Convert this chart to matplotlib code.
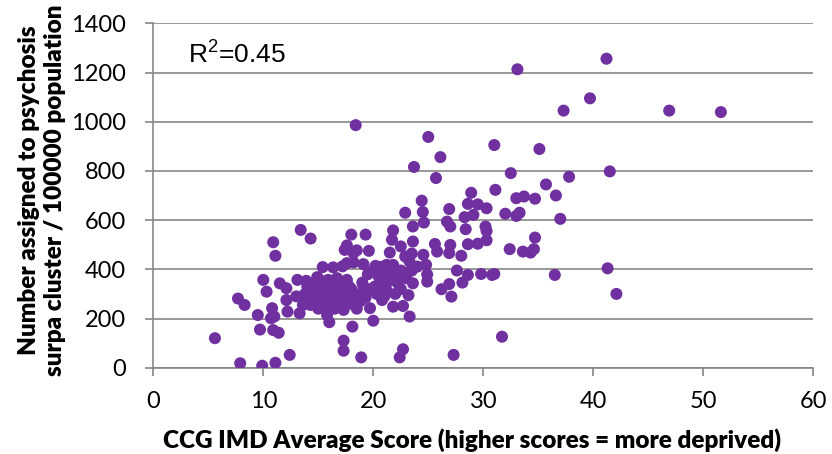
import matplotlib
matplotlib.use("Agg")
import matplotlib.pyplot as plt

# CCG IMD average score vs number in psychosis super cluster per 100000
imd_score = [
    5.6, 7.7, 8.3, 7.9, 9.9, 11.1, 12.4, 9.7, 9.5, 10.0, 10.3, 10.9, 11.1, 10.8, 10.7,
    11.0, 10.9, 11.4, 11.5, 12.1, 12.1, 12.2, 13.4, 14.3, 13.1, 13.9, 13.3, 13.9, 13.6,
    15.4, 14.9, 16.0, 15.8, 17.3, 17.3, 18.1, 18.9, 18.0, 19.3, 19.6, 17.4, 17.6, 18.2,
    18.5, 18.2, 17.6, 19.1, 16.35, 17.2, 19.0, 19.1, 19.7, 20.0, 20.8, 20.2, 20.7, 21.2,
    21.8, 21.8, 21.7, 21.5, 22.5, 22.9, 23.6, 23.6, 22.9, 23.5, 23.3, 24.0, 24.4, 24.5,
    24.6, 24.55, 24.8, 24.9, 24.9, 21.8, 22.7, 23.3, 22.7, 22.4, 27.3, 21.5, 22.4, 23.0,
    19.7, 20.15, 21.2, 23.6, 15.0, 15.9, 16.7, 17.6,
    18.4, 25.0, 26.1, 23.7, 25.7, 28.9, 26.9, 26.7, 27.0, 28.4, 28.3, 29.1, 28.6, 29.5,
    25.6, 25.8, 27.0, 26.9, 28.0, 27.6, 28.6, 28.1, 26.9, 26.2, 27.1, 28.6, 29.5, 30.3,
    30.2, 30.3, 29.8, 30.8, 31.0,
    33.1, 41.2, 37.3, 39.7, 46.9, 51.6, 31.0, 35.1, 32.5, 41.5, 31.1, 37.8, 35.7, 36.6,
    33.0, 33.7, 34.7, 30.3, 32.0, 33.0, 33.3, 37.0, 34.7, 32.4, 33.6, 34.3, 34.6, 36.5,
    41.3, 42.1, 31.7,
    14.0, 14.5, 14.8, 15.0, 15.3, 15.5, 15.8, 16.0, 16.2, 16.5, 16.8, 17.0, 17.2, 17.5,
    17.8, 18.0, 18.3, 18.5, 18.8, 19.0, 14.3, 15.0, 16.5, 17.3, 18.5, 14.7, 16.0, 17.8,
    19.3, 13.8, 15.6, 16.9, 13.0, 14.0,
    19.5, 20.0, 20.5, 21.0, 21.3, 21.8, 22.2, 22.5, 23.0, 23.5, 20.3, 21.0, 22.0, 22.5,
    23.2, 20.7, 22.0,
]
psychosis_rate = [
    120, 281, 255, 18, 8, 20, 52, 155, 214, 357, 309, 510, 455, 242, 201,
    208, 153, 142, 343, 323, 275, 228, 560, 525, 357, 353, 221, 282, 255,
    409, 368, 185, 214, 110, 69, 167, 42, 541, 541, 475, 479, 497, 466,
    477, 428, 425, 421, 408, 412, 346, 330, 242, 191, 275, 414, 410, 418,
    418, 558, 520, 468, 493, 630, 574, 513, 452, 464, 431, 411, 679, 633,
    590, 459, 418, 379, 350, 248, 251, 208, 75, 42, 52, 377, 370, 364,
    319, 330, 316, 343, 364, 357, 364, 357,
    986, 938, 856, 816, 771, 711, 645, 594, 574, 563, 612, 621, 666, 664,
    503, 472, 499, 466, 455, 395, 377, 346, 340, 319, 289, 502, 504, 518,
    574, 556, 381, 377, 381,
    1213, 1256, 1045, 1095, 1045, 1039, 905, 889, 791, 798, 723, 776, 745, 700,
    689, 696, 687, 648, 626, 617, 630, 605, 529, 482, 472, 468, 482, 377,
    404, 300, 126,
    300, 320, 290, 270, 330, 300, 280, 250, 320, 295, 270, 340, 300, 280,
    260, 320, 300, 285, 270, 300, 255, 240, 240, 235, 240, 345, 345, 330,
    285, 300, 258, 322, 290, 330,
    380, 395, 370, 385, 350, 395, 345, 395, 385, 395, 300, 290, 300, 320,
    295, 340, 375,
]
x_ticks = [0, 10, 20, 30, 40, 50, 60]
y_ticks = [0, 200, 400, 600, 800, 1000, 1200, 1400]
r_squared = 0.45

plt.rcParams['font.family'] = ['Lato', 'DejaVu Sans']
plt.rcParams['mathtext.fontset'] = 'custom'
plt.rcParams['mathtext.rm'] = 'Liberation Sans'

grey = '#868686'
purple = '#7030A0'

fig = plt.figure(figsize=(8.32, 4.54), dpi=100)
ax = fig.add_axes([153.3/832, 1-367.7/454, 660/832, 344.4/454])

ax.scatter(imd_score, psychosis_rate, s=75, color=purple, edgecolors='none', zorder=3)

ax.set_xlim(0, 60)
ax.set_ylim(0, 1400)
ax.set_xticks(x_ticks)
ax.set_yticks(y_ticks)
ax.yaxis.grid(True, color=grey, linewidth=1.2)
ax.set_axisbelow(True)
for side in ['top', 'right']:
    ax.spines[side].set_visible(False)
for side in ['left', 'bottom']:
    ax.spines[side].set_color(grey)
    ax.spines[side].set_linewidth(1.2)
ax.tick_params(axis='both', colors=grey, width=1.2, length=6, labelsize=17,
               labelcolor='black')
ax.tick_params(axis='y', pad=14)
ax.tick_params(axis='x', pad=11)

ax.text(3.15, 1240, 'R$^{\\mathregular{2}}$=0.45', fontsize=19,
        family='Liberation Sans', va='baseline', ha='left')

fig.text(42/832, 1-190/454,
         'Number assigned to psychosis\nsurpa cluster / 100000 population',
         rotation=90, ha='center', va='center', fontsize=17.5, fontweight='heavy',
         linespacing=1.25)
fig.text(472/832, 1-440/454,
         'CCG IMD Average Score (higher scores = more deprived)',
         ha='center', va='center', fontsize=17.5, fontweight='heavy')

fig.savefig('out.png', dpi=100)
